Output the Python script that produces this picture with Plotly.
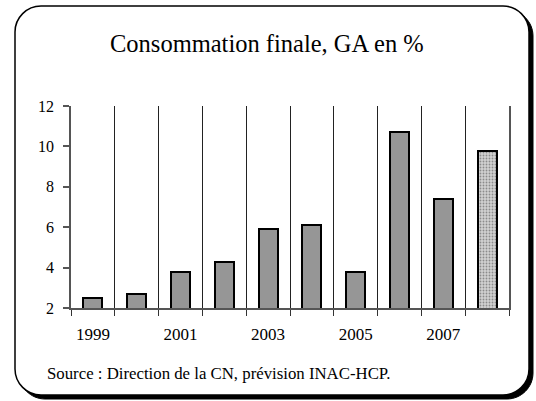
import plotly.graph_objects as go

# ---- data ----
years = [1999, 2000, 2001, 2002, 2003, 2004, 2005, 2006, 2007, 2008]
values = [2.5, 2.7, 3.8, 4.3, 5.9, 6.1, 3.8, 10.7, 7.4, 9.75]
xtick_years = [1999, 2001, 2003, 2005, 2007]
xtick_labels = ["1999", "2001", "2003", "2005", "2007"]
ytick_vals = [2, 4, 6, 8, 10, 12]
title_text = "Consommation finale, GA en %"
source_text = "Source : Direction de la CN, prévision INAC-HCP."

# ---- layout geometry (pixels) ----
W, H = 536, 401
L, R, T, B = 71, 509, 106, 308
FONT = "Liberation Serif"


def px(x):
    return (x - L) / (R - L)


def py(y):
    return (B - y) / (B - T)


def rrect(x0, y0, x1, y1, r):
    k = 0.45
    pts = [
        f"M {px(x0 + r)},{py(y0)}",
        f"L {px(x1 - r)},{py(y0)}",
        f"C {px(x1 - r * k)},{py(y0)} {px(x1)},{py(y0 + r * k)} {px(x1)},{py(y0 + r)}",
        f"L {px(x1)},{py(y1 - r)}",
        f"C {px(x1)},{py(y1 - r * k)} {px(x1 - r * k)},{py(y1)} {px(x1 - r)},{py(y1)}",
        f"L {px(x0 + r)},{py(y1)}",
        f"C {px(x0 + r * k)},{py(y1)} {px(x0)},{py(y1 - r * k)} {px(x0)},{py(y1 - r)}",
        f"L {px(x0)},{py(y0 + r)}",
        f"C {px(x0)},{py(y0 + r * k)} {px(x0 + r * k)},{py(y0)} {px(x0 + r)},{py(y0)}",
        "Z",
    ]
    return " ".join(pts)


colors = ["#969696"] * (len(years) - 1) + ["#d2d2d2"]
patterns = [""] * (len(years) - 1) + ["."]

fig = go.Figure()
fig.add_trace(
    go.Bar(
        x=years,
        y=values,
        base=0,
        width=0.43,
        marker=dict(
            color=colors,
            line=dict(color="black", width=2),
            pattern=dict(shape=patterns, fgcolor="#b4b4b4", bgcolor="#d8d8d8",
                         size=3, solidity=0.3),
        ),
        showlegend=False,
        hoverinfo="x+y",
    )
)

fig.update_layout(
    width=W,
    height=H,
    autosize=False,
    margin=dict(l=L, r=W - R, t=T, b=H - B, pad=0),
    paper_bgcolor="white",
    plot_bgcolor="rgba(0,0,0,0)",
    font=dict(family=FONT, color="black", size=15),
    bargap=0,
    shapes=[
        dict(type="path", xref="paper", yref="paper",
             path=rrect(19, 10, 533, 399, 26),
             fillcolor="black", line=dict(color="black", width=1), layer="below"),
        dict(type="path", xref="paper", yref="paper",
             path=rrect(15, 6, 529, 395, 26),
             fillcolor="white", line=dict(color="black", width=1.5), layer="below"),
    ],
    annotations=[
        dict(text=title_text, xref="paper", yref="paper", x=px(266.5), y=py(44),
             xanchor="center", yanchor="middle", showarrow=False,
             font=dict(family=FONT, size=24.5, color="black")),
        dict(text=source_text, xref="paper", yref="paper", x=px(45), y=py(373),
             xanchor="left", yanchor="middle", showarrow=False,
             font=dict(family=FONT, size=16.8, color="black")),
    ],
)

fig.update_xaxes(
    range=[1998.5, 2008.5],
    tickmode="array",
    tickvals=xtick_years,
    ticktext=xtick_labels,
    ticks="",
    tickfont=dict(family=FONT, size=17),
    ticklabelstandoff=10,
    showgrid=False,
    zeroline=False,
    showline=True,
    linecolor="#555555",
    linewidth=1.5,
    minor=dict(tickmode="linear", tick0=1998.5, dtick=1, ticks="outside",
               ticklen=6, tickcolor="#333333", tickwidth=1,
               showgrid=True, gridcolor="#222222", gridwidth=1),
    fixedrange=True,
)

fig.update_yaxes(
    range=[2, 12],
    tickmode="array",
    tickvals=ytick_vals,
    ticks="outside",
    ticklen=6,
    tickcolor="#555555",
    tickwidth=1.5,
    tickfont=dict(family=FONT, size=16),
    ticklabelstandoff=6,
    showgrid=False,
    zeroline=False,
    showline=True,
    mirror=True,
    linecolor="#555555",
    linewidth=1.5,
    fixedrange=True,
)

fig.write_html("out.html", config={"displayModeBar": False},
               post_script="document.body.style.margin='0';")
